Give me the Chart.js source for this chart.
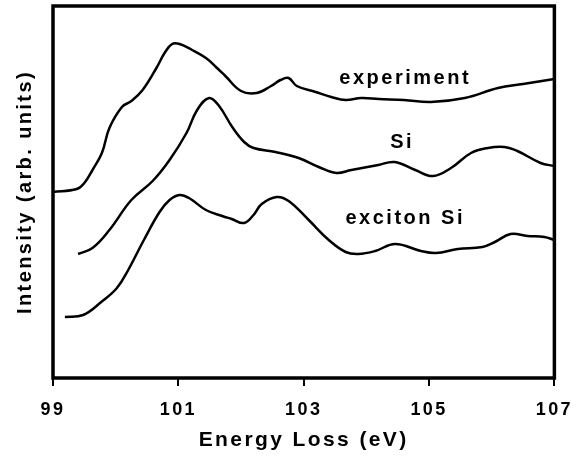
<!DOCTYPE html>
<html>
<head>
<meta charset="utf-8">
<script src="https://cdn.jsdelivr.net/npm/chart.js@4.4.1/dist/chart.umd.min.js"></script>
<style>
  html, body { margin: 0; padding: 0; background: #fff; }
  #wrap { width: 586px; height: 460px; }
</style>
</head>
<body>
<div id="wrap"><canvas id="chart"></canvas></div>
<script>
// energy loss (eV) / intensity (arb. units, offset per curve)
const expX = [99.0, 99.38, 99.5, 99.63, 99.78, 99.9, 100.1, 100.25, 100.43, 100.65, 100.78, 100.9, 101.02, 101.22, 101.44, 101.6, 101.75, 102.0, 102.25, 102.48, 102.63, 102.76, 102.89, 103.19, 103.44, 103.67, 103.92, 104.2, 104.6, 105.03, 105.57, 106.1, 106.5, 107.0];
const expY = [186, 189, 195, 208, 225, 250, 271, 277, 288, 310, 325, 334, 334, 328, 320, 311, 302, 287, 285, 292, 298, 300, 292, 286, 281, 278, 280, 279, 278, 276, 280, 290, 294, 299];

const siX = [99.4, 99.63, 99.9, 100.25, 100.59, 100.86, 101.13, 101.3, 101.49, 101.65, 101.86, 102.05, 102.2, 102.55, 102.92, 103.24, 103.52, 103.76, 104.19, 104.45, 104.78, 105.06, 105.35, 105.67, 105.94, 106.2, 106.41, 106.78, 107.0];
const siY = [124, 130, 148, 178, 197, 218, 245, 268, 280, 272, 251, 236, 230, 226, 220, 211, 205, 208, 213, 216, 208, 202, 210, 225, 230, 231, 227, 215, 212];

const excX = [99.19, 99.48, 99.77, 100.02, 100.2, 100.45, 100.7, 100.86, 101.02, 101.17, 101.44, 101.7, 101.85, 102.05, 102.2, 102.33, 102.57, 102.76, 103.08, 103.4, 103.67, 103.87, 104.14, 104.46, 104.87, 105.11, 105.46, 105.85, 106.05, 106.3, 106.57, 106.84, 107.0];
const excY = [61, 63, 76, 90, 108, 138, 166, 178, 183, 180, 168, 162, 159, 155, 163, 174, 181, 177, 158, 138, 126, 124, 127, 134, 127, 125, 129, 131, 136, 144, 142, 141, 138];

const xTicks = [99, 101, 103, 105, 107];
const curveNames = ['experiment', 'Si', 'exciton Si'];

const FONT = 'Liberation Sans, Arial, Helvetica, sans-serif';

function pts(xs, ys) {
  return xs.map((x, i) => ({ x: x, y: ys[i] }));
}

// canvas letterSpacing gets wiped on resize, so set it again before layout/draw
const spacing = {
  id: 'spacing',
  beforeLayout(chart) { chart.ctx.letterSpacing = '2.4px'; },
  beforeDraw(chart) { chart.ctx.letterSpacing = '2.4px'; }
};

// curve labels + heavy frame
const labelPos = [[104.62, 300], [104.57, 236], [104.62, 160]];
const extras = {
  id: 'extras',
  afterDraw(chart) {
    const ctx = chart.ctx;
    const a = chart.chartArea;
    const xs = chart.scales.x, ys = chart.scales.y;
    ctx.save();
    ctx.letterSpacing = '2.5px';
    ctx.fillStyle = '#000';
    ctx.font = 'bold 20px ' + FONT;
    ctx.textAlign = 'center';
    ctx.textBaseline = 'middle';
    curveNames.forEach((name, i) => {
      ctx.fillText(name, xs.getPixelForValue(labelPos[i][0]), ys.getPixelForValue(labelPos[i][1]));
    });
    ctx.lineWidth = 3.5;
    ctx.strokeStyle = '#000';
    ctx.strokeRect(a.left, a.top, a.right - a.left, a.bottom - a.top);
    ctx.restore();
  }
};

const lineStyle = {
  borderColor: '#000',
  borderWidth: 2.5,
  pointRadius: 0,
  fill: false,
  tension: 0.4
};

new Chart(document.getElementById('chart'), {
  type: 'line',
  data: {
    datasets: [
      Object.assign({ label: curveNames[0], data: pts(expX, expY) }, lineStyle),
      Object.assign({ label: curveNames[1], data: pts(siX, siY) }, lineStyle),
      Object.assign({ label: curveNames[2], data: pts(excX, excY) }, lineStyle)
    ]
  },
  options: {
    responsive: true,
    maintainAspectRatio: false,
    animation: false,
    layout: { padding: { left: 0, top: 6, right: 29, bottom: 0 } },
    plugins: { legend: { display: false }, tooltip: { enabled: false } },
    scales: {
      x: {
        type: 'linear',
        min: 99,
        max: 107,
        afterBuildTicks: s => { s.ticks = xTicks.map(v => ({ value: v })); },
        afterFit: s => { s.height = 82; },
        border: { display: false },
        grid: { drawOnChartArea: false, drawTicks: true, tickLength: 8, color: '#000', lineWidth: 2 },
        ticks: { color: '#000', padding: 13, font: { family: FONT, size: 18, weight: 'bold' }, maxRotation: 0 },
        title: {
          display: true,
          text: 'Energy Loss (eV)',
          color: '#000',
          font: { family: FONT, size: 21, weight: 'bold' },
          padding: { top: 0, bottom: 7 }
        }
      },
      y: {
        type: 'linear',
        min: 0,
        max: 372,
        afterFit: s => { s.width = 53; },
        border: { display: false },
        grid: { display: false },
        ticks: { display: false },
        title: {
          display: true,
          text: 'Intensity (arb. units)',
          color: '#000',
          font: { family: FONT, size: 20, weight: 'bold' },
          padding: { top: 13, bottom: 0 }
        }
      }
    }
  },
  plugins: [spacing, extras]
});
</script>
</body>
</html>
